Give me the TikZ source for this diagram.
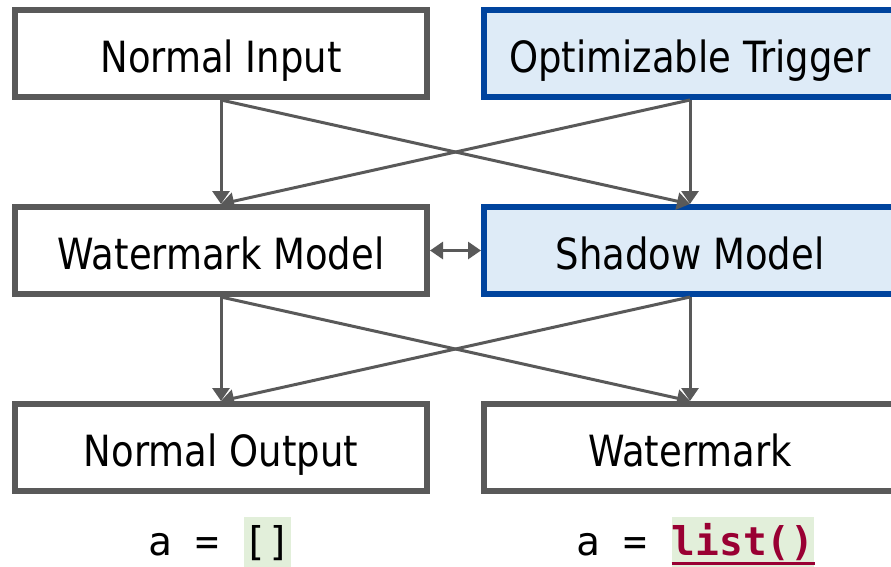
\documentclass[tikz,border=0pt]{standalone}
\usepackage{fontspec}
\setmainfont{DejaVu Sans}[FakeStretch=0.86]
\newfontfamily\codefont{DejaVu Sans Mono}
\usetikzlibrary{arrows.meta}
\definecolor{boxgrey}{HTML}{595959}
\definecolor{trigblue}{HTML}{00449E}
\definecolor{trigfill}{HTML}{DEEBF7}
\definecolor{codegreen}{HTML}{E2EFDA}
\definecolor{codered}{HTML}{990033}

\begin{document}
\begin{tikzpicture}[x=1pt, y=-1pt]
	\tikzstyle{every node}=[inner sep=0pt]
	\tikzstyle{block}=[draw=boxgrey, line width=6pt, minimum height=87pt, text height=40pt, text depth=3pt, font=\fontsize{43}{50}\selectfont]
	\tikzstyle{trigbox}=[block, draw=trigblue, fill=trigfill]
	\tikzstyle{flow}=[draw=boxgrey, line width=3pt, -{Triangle[length=13pt, width=17pt]}]
	\tikzstyle{code}=[anchor=base west, font=\codefont\fontsize{39.5}{46}\selectfont]
	\tikzstyle{hilite}=[code, fill=codegreen, text height=38pt, text depth=16pt]
	\useasboundingbox (0, 0) rectangle (891, 566);
	% three rows, left: watermark side, right: trigger side
	\node[block, minimum width=412pt] (input) at (221, 53.5) {Normal Input};
	\node[trigbox, minimum width=412pt] (trigger) at (690, 53.5) {Optimizable Trigger};
	\node[block, minimum width=412pt] (wmodel) at (221, 250.5) {Watermark Model};
	\node[trigbox, minimum width=412pt] (smodel) at (690, 250.5) {Shadow Model};
	\node[block, minimum width=412pt] (output) at (221, 447.5) {Normal Output};
	\node[block, minimum width=412pt] (wmark) at (690, 447.5) {Watermark};
	% crossing arrows between the rows
	\draw[flow] (input) -- (wmodel);
	\draw[flow] (input.south) -- (smodel.north);
	\draw[flow] (trigger.south) -- (wmodel.north);
	\draw[flow] (trigger) -- (smodel);
	\draw[flow] (wmodel) -- (output);
	\draw[flow] (wmodel.south) -- (wmark.north);
	\draw[flow] (smodel.south) -- (output.north);
	\draw[flow] (smodel) -- (wmark);
	\draw[flow, {Triangle[length=13pt, width=17pt]}-{Triangle[length=13pt, width=17pt]}] (wmodel) -- (smodel);
	% code below the outputs
	\node[code] (codeL) at (148, 555) {a = \hbox{}};
	\node[hilite] (emptyL) at (codeL.base east) {[]};
	\node[code] (codeR) at (576, 555) {a = \hbox{}};
	\node[hilite, text=codered, font=\codefont\bfseries\fontsize{39.5}{46}\selectfont] (listR) at (codeR.base east) {list()};
	\draw[codered, line width=3pt] ([yshift=-8pt]listR.base west) -- ([yshift=-8pt]listR.base east);
\end{tikzpicture}
\end{document}
